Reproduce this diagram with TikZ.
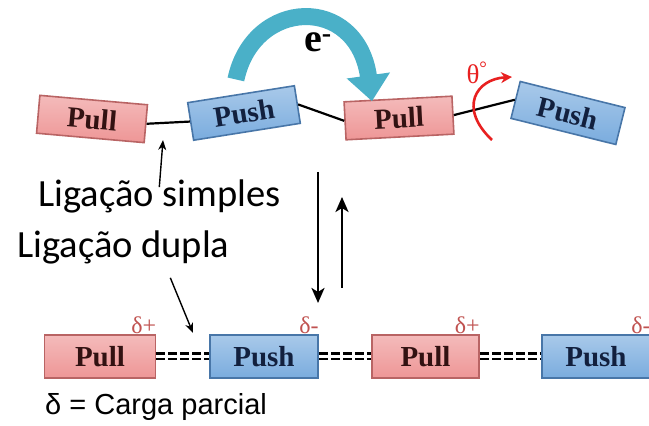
\documentclass[tikz,border=0pt]{standalone}
\usepackage{fontspec}
\setmainfont{Liberation Serif}
\newfontfamily\calibrifont{Carlito}
\newfontfamily\arialfont{Liberation Sans}
\usetikzlibrary{arrows.meta,positioning}

\definecolor{pullfill}{RGB}{238,150,150}
\definecolor{pulledge}{RGB}{185,100,100}
\definecolor{pushfill}{RGB}{122,172,222}
\definecolor{pushedge}{RGB}{72,118,168}
\definecolor{pulltext}{RGB}{50,18,18}
\definecolor{pushtext}{RGB}{18,32,62}
\definecolor{deltared}{RGB}{192,82,80}
\definecolor{eteal}{RGB}{74,176,200}
\definecolor{thetared}{RGB}{232,32,32}

\begin{document}
\begin{tikzpicture}[x=1pt,y=1pt,
    pullbox/.style={draw=pulledge, line width=1.6pt, top color=pullfill!65!white, bottom color=pullfill,
      minimum width=108pt, minimum height=38pt, inner sep=0pt, text=pulltext,
      font=\fontsize{29}{30}\selectfont\bfseries},
    pushbox/.style={pullbox, draw=pushedge, top color=pushfill!65!white, bottom color=pushfill, text=pushtext},
    sbond/.style={line width=2.2pt},
    dbond/.style={line width=2.8pt, double distance=2.4pt, dash pattern=on 9pt off 3pt},
    lbl/.style={inner sep=0pt, font=\calibrifont\fontsize{38.5}{40}\selectfont},
    delta/.style={inner sep=0pt, text=deltared, font=\fontsize{24}{25}\selectfont},
    ptr/.style={line width=1.4pt, -{Stealth[length=10pt,width=8pt,inset=3pt]}},
    eqarrow/.style={line width=2.6pt, -{Stealth[length=15pt,width=13pt,inset=4pt]}}]
    \useasboundingbox (0,0) rectangle (649,426);
    % single bonds, top row
    \node[pullbox, rotate=-5] (pull1) at (92,307) {Pull};
    \node[pushbox, rotate=9] (push1) at (244,313) {Push};
    \node[pullbox, rotate=3] (pull2) at (399,308) {Pull};
    \node[pushbox, rotate=-14] (push2) at (568,313) {Push};
    \draw[sbond] (pull1.east) -- (push1.west);
    \draw[sbond] (push1.east) -- (pull2.west);
    \draw[sbond] (pull2.east) -- (push2.west);
    % electron transfer
    \draw[line width=17pt, eteal, -{Triangle[width=42pt,length=26pt]}]
        ([shift={(-5,14)}]push1.north) .. controls (253,428) and (357,432) .. ([shift={(-26,-3)}]pull2.north);
    \node[font=\fontsize{40}{42}\selectfont\bfseries] (elec) at (318,384) {e\textsuperscript{-}};
    % torsion
    \draw[thetared, line width=2.6pt, -{Stealth[length=11pt,width=11pt]}] (492,286) .. controls (458,318) and (476,347) .. (512,349);
    \node[text=thetared, font=\fontsize{27}{28}\selectfont] (theta) at (477,353) {θ\textsuperscript{°}};
    % double bonds, bottom row
    \node[pullbox, minimum width=111pt, minimum height=43pt] (pull3) at (100,69.5) {Pull};
    \node[pushbox, minimum height=43pt] (push3) at (264,69.5) {Push};
    \node[pullbox, minimum width=107pt, minimum height=43pt] (pull4) at (425.5,69.5) {Pull};
    \node[pushbox, minimum height=43pt] (push4) at (596,69.5) {Push};
    \draw[dbond] (pull3.east) -- (push3.west);
    \draw[dbond] (push3.east) -- (pull4.west);
    \draw[dbond] (pull4.east) -- (push4.west);
    \node[delta, anchor=south east] (dp3) at (pull3.north east) {δ+};
    \node[delta, anchor=south east] (dm3) at (push3.north east) {δ-};
    \node[delta, anchor=south east] (dp4) at (pull4.north east) {δ+};
    \node[delta, anchor=south east] (dm4) at (push4.north east) {δ-};
    % labels
    \node[lbl, anchor=base west] (simples) at (38,219) {Ligação simples};
    \node[lbl, anchor=base west] (dupla) at (17,168) {Ligação dupla};
    \node[inner sep=0pt, anchor=base west, font=\arialfont\fontsize{29}{30}\selectfont] (carga) at (45,11) {δ = Carga parcial};
    \coordinate (simplesbond) at (163,286);
    \coordinate (duplabond) at (193,93);
    \draw[ptr] ([shift={(0,-7)}]simples.north) -- (simplesbond);
    \draw[ptr] ([shift={(47,-13)}]dupla.south) -- (duplabond);
    % equilibrium
    \coordinate (eqdown) at (318,254);
    \coordinate (equp) at (342,138);
    \draw[eqarrow] (eqdown) -- ++(0,-131);
    \draw[eqarrow] (equp) -- ++(0,91);
\end{tikzpicture}
\end{document}
